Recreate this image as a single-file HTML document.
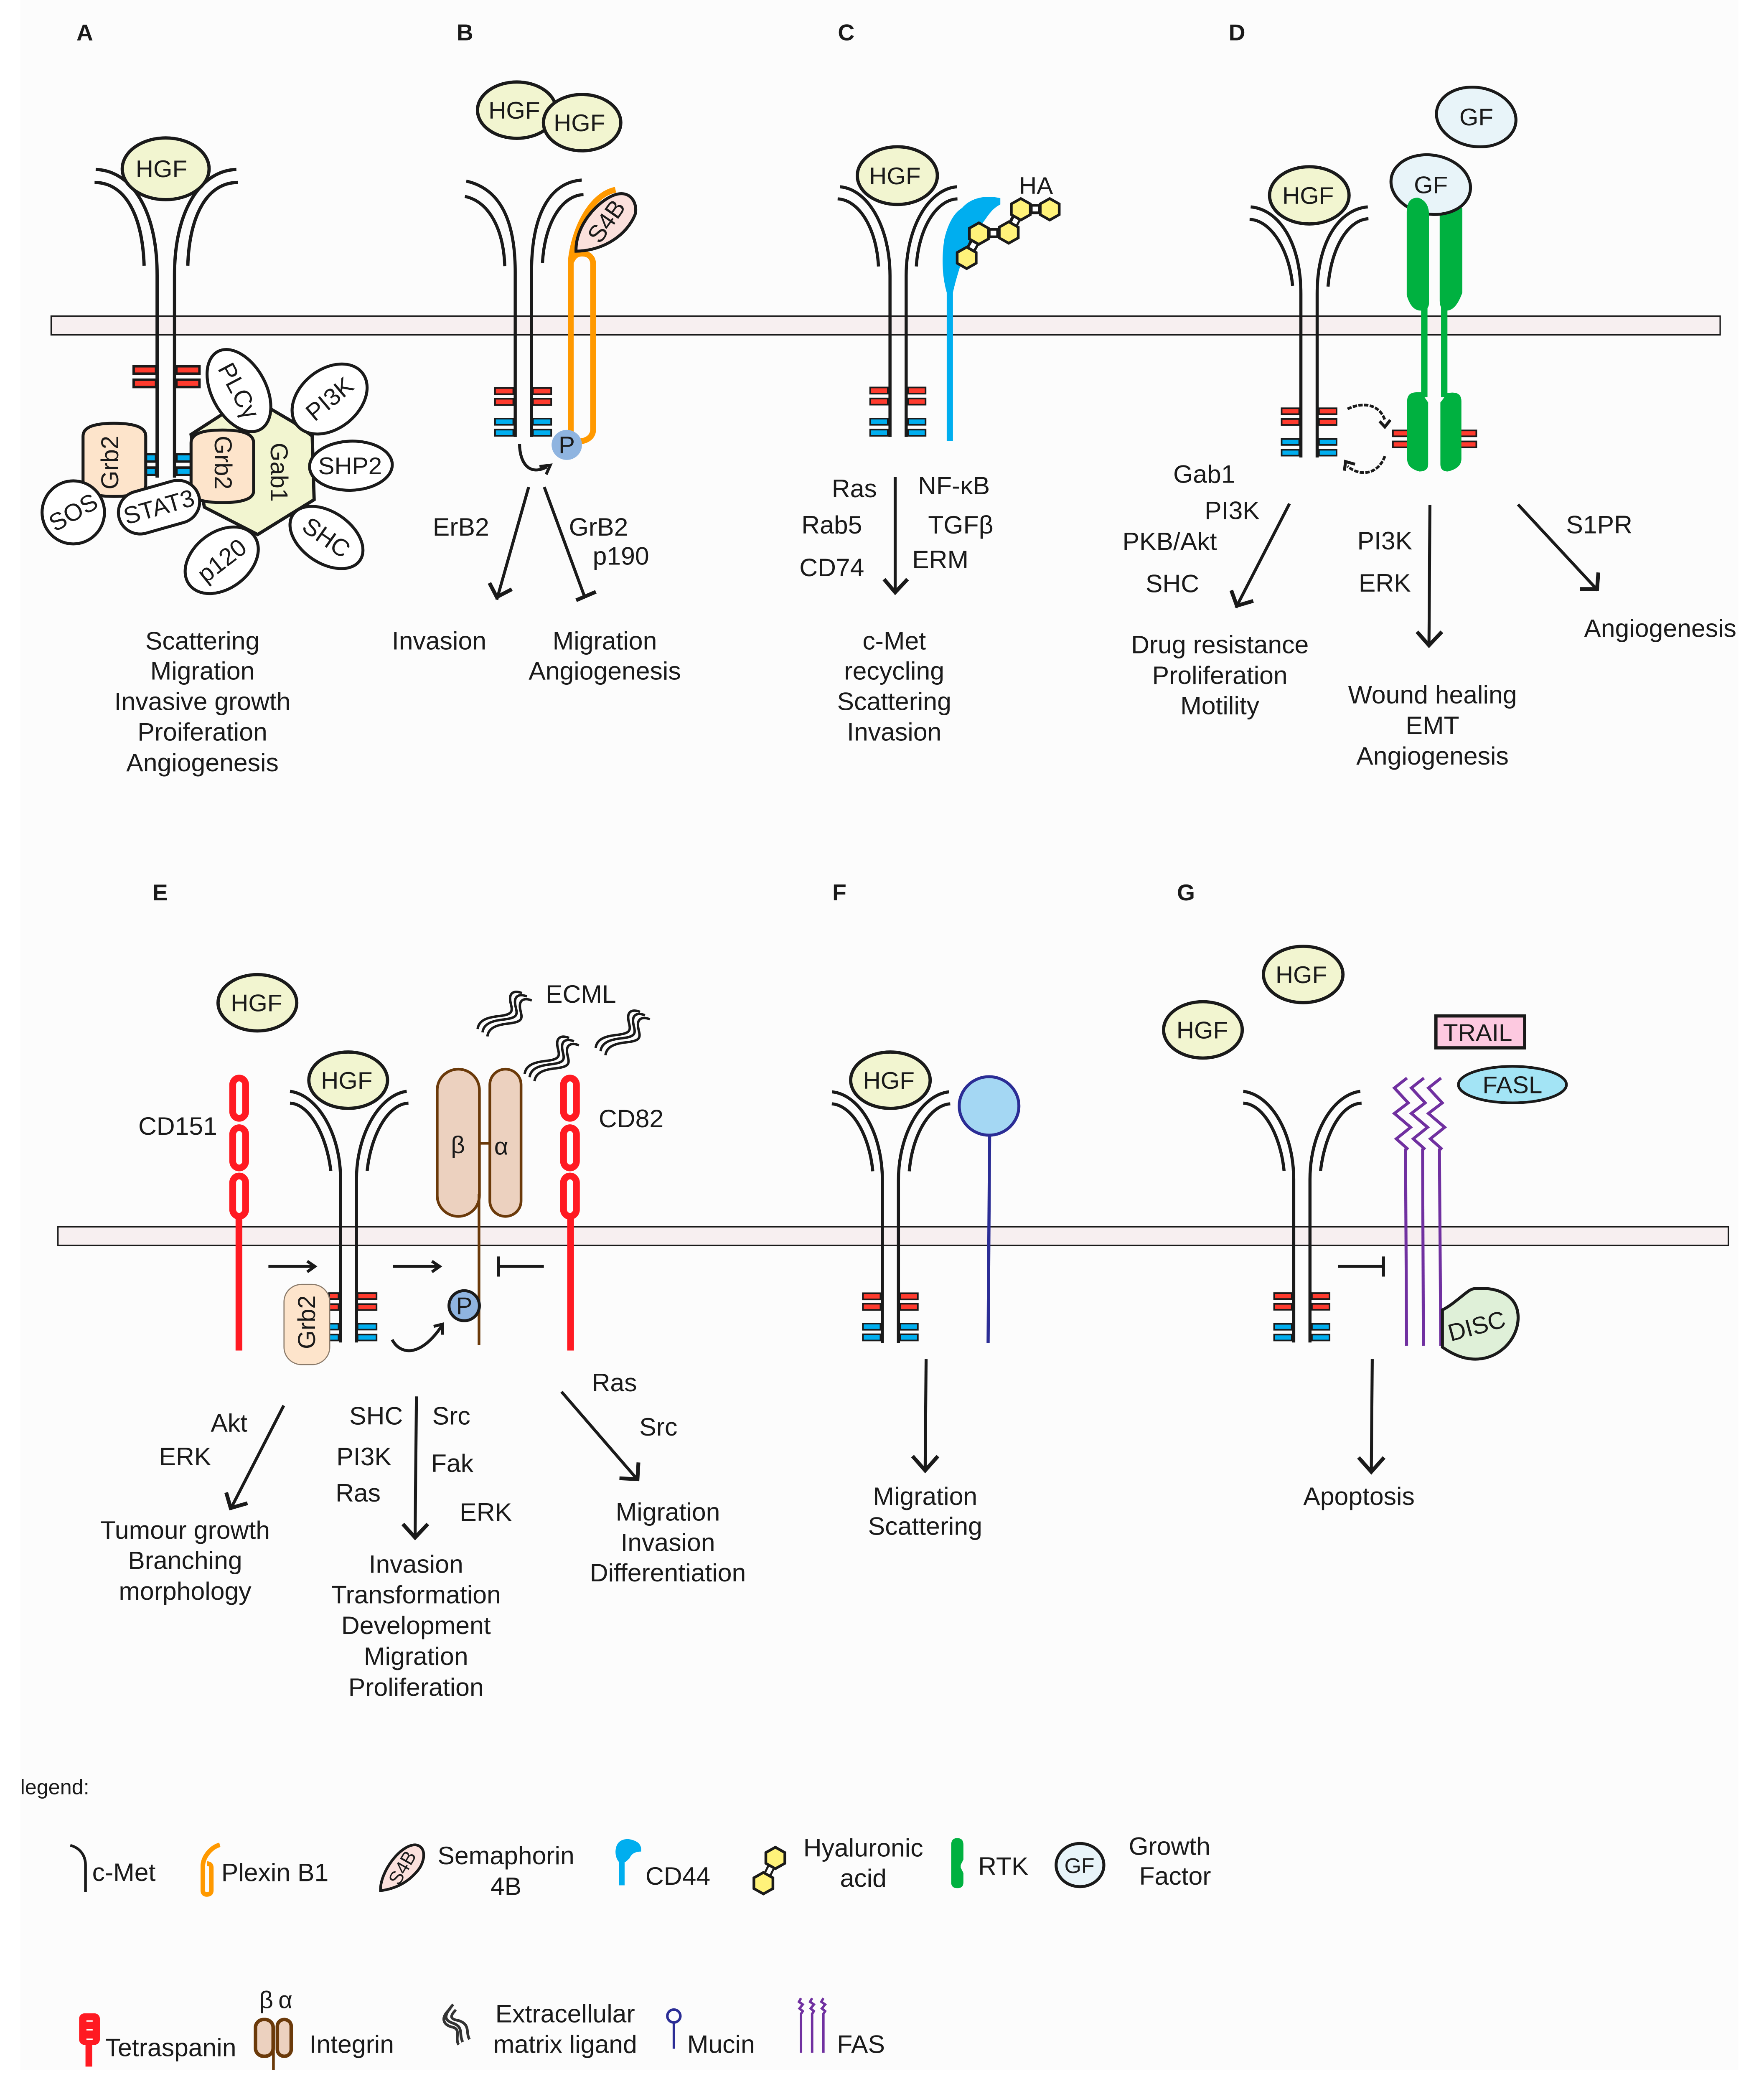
<!DOCTYPE html>
<html><head><meta charset="utf-8"><style>
html,body{margin:0;padding:0;background:#fff;width:100%;height:100%;overflow:hidden}
svg{display:block;position:absolute;left:0;top:0;width:100vw;height:100vh}
text{font-family:"Liberation Sans",sans-serif;font-size:18.7px;fill:#1a1a1a;text-anchor:middle}
.b{font-weight:bold;font-size:17px}
.s18{font-size:18px}
.r{fill:none;stroke:#1a1a1a;stroke-width:2.3}
.l{fill:none;stroke:#1a1a1a;stroke-width:2.2}
.h{fill:none;stroke:#1a1a1a;stroke-width:2.8;stroke-linejoin:miter}
.hgf{fill:#f2f5d0;stroke:#1a1a1a;stroke-width:2.4}
.w{fill:#fff;stroke:#1a1a1a;stroke-width:2.2}
.red{fill:#ff3b2e;stroke:#1a1a1a;stroke-width:1.2}
.blu{fill:#00aeef;stroke:#1a1a1a;stroke-width:1.2}
.mem{fill:#f7eff0;stroke:#1a1a1a;stroke-width:1}
.gb{fill:#fde4cb;stroke:#1a1a1a;stroke-width:2.2}
.tet{fill:none;stroke:#ff1a22;stroke-width:5}
.pur{fill:none;stroke:#7030a0;stroke-width:2.2}
.grn{fill:#00b140}
.hx{fill:#fff27a;stroke:#1a1a1a;stroke-width:2}
</style></head><body>
<svg xmlns="http://www.w3.org/2000/svg" viewBox="0 0 1300 1557" preserveAspectRatio="none">
<defs>
<polygon id="hex" points="0,-8 7,-4 7,4 0,8 -7,4 -7,-4"/>
<g id="ecm" fill="none" stroke="#1a1a1a" stroke-width="1.8">
<path d="M0,0 C.8,-7.2 8.5,-8.9 16.1,-9.7 C26.3,-11 25.8,-13.4 24.3,-19.6 C22.5,-27.9 27.6,-28.9 32.7,-26.8"/>
<path d="M3.6,2.5 C4.4,-4.7 12.1,-6.4 19.7,-7.2 C29.9,-8.5 29.4,-10.9 27.9,-17.1 C26.1,-25.4 31.2,-26.4 36.3,-24.3"/>
<path d="M7.2,5.5 C8,-1.7 15.7,-3.4 23.3,-4.2 C33.5,-5.5 33,-7.9 31.5,-14.1 C29.7,-22.4 34.8,-23.4 39.9,-21.3"/>
</g>
</defs>
<rect width="1300" height="1557" fill="#fff"/>
<rect x="15" y="0" width="1266" height="1543" fill="#fcfcfc"/>

<!-- panel letters -->
<text class="b" x="62.5" y="30">A</text><text class="b" x="342.6" y="30">B</text><text class="b" x="623.6" y="30">C</text><text class="b" x="911.6" y="30">D</text>
<text class="b" x="118" y="671">E</text><text class="b" x="618.6" y="671">F</text><text class="b" x="874" y="671">G</text>

<!-- membranes -->
<rect class="mem" x="37.7" y="235.6" width="1230" height="14"/>
<rect class="mem" x="42.7" y="914.4" width="1231" height="13.8"/>

<!-- A -->
<g class="r" style="stroke-width:2.4">
<path d="M70.5,126.3 C96,127 115.8,155 115.8,205 V356"/><path d="M174.2,126.3 C149,127 128.6,155 128.6,205 V356"/>
<path d="M69.7,136 C92,136 105,160 106.2,198"/><path d="M175.2,136 C153,136 139.5,160 138.4,198"/>
</g>
<ellipse class="hgf" cx="122.1" cy="125.8" rx="32" ry="23"/>
<text class="s18" x="119" y="132">HGF</text>
<g>
<rect class="red" style="stroke-width:1.8" x="98.5" y="273" width="16.5" height="5.5"/><rect class="red" style="stroke-width:1.8" x="98.5" y="283" width="16.5" height="5.5"/>
<rect class="red" style="stroke-width:1.8" x="130" y="273" width="17" height="5.5"/><rect class="red" style="stroke-width:1.8" x="130" y="283" width="17" height="5.5"/>
<rect class="blu" style="stroke-width:1.8" x="107" y="338.5" width="8" height="5.5"/><rect class="blu" style="stroke-width:1.8" x="107" y="348.5" width="8" height="5.5"/>
<rect class="blu" style="stroke-width:1.8" x="130" y="338.5" width="12" height="5.5"/><rect class="blu" style="stroke-width:1.8" x="130" y="348.5" width="12" height="5.5"/>
</g>
<polygon class="hgf" points="140.8,323.8 184,295.6 216.4,314.8 230.1,325 231.5,372.4 189.9,398.4 150.6,378"/>
<path class="gb" d="M61.2,325 C61.2,318 70,315.5 84,315.5 C98,315.5 107.4,318 107.4,325 V362 C107.4,367 98,370 84,370 C70,370 61.2,367 61.2,362 Z"/>
<path class="gb" d="M140.8,330 C140.8,323 150,320.5 164,320.5 C178,320.5 186.9,323 186.9,330 V366 C186.9,372 178,374.6 164,374.6 C150,374.6 140.8,372 140.8,366 Z"/>
<text class="s18" transform="rotate(-90 80.9 344.8)" x="80.9" y="351">Grb2</text>
<text class="s18" transform="rotate(90 164.4 344.8)" x="164.4" y="351">Grb2</text>
<text class="s18" transform="rotate(90 205.6 352)" x="205.6" y="358">Gab1</text>
<ellipse class="w" transform="rotate(62 176.1 291.1)" cx="176.1" cy="291.1" rx="33" ry="20"/>
<text class="s18" transform="rotate(62 176.1 291.1)" x="176.1" y="297.5">PLCγ</text>
<ellipse class="w" transform="rotate(-40 242.9 297.4)" cx="242.9" cy="297.4" rx="31" ry="22"/>
<text class="s18" transform="rotate(-40 242.9 297.4)" x="242.9" y="303.5">PI3K</text>
<ellipse class="w" transform="rotate(-2 258.6 347.1)" cx="258.6" cy="347.1" rx="30.5" ry="18.3"/>
<text class="s18" x="258" y="353.5">SHP2</text>
<ellipse class="w" transform="rotate(35 240.6 400.6)" cx="240.6" cy="400.6" rx="30" ry="19"/>
<text class="s18" transform="rotate(35 240.6 400.6)" x="240.6" y="406.8">SHC</text>
<ellipse class="w" transform="rotate(-38 163.4 417.6)" cx="163.4" cy="417.6" rx="30" ry="21"/>
<text class="s18" transform="rotate(-38 163.4 417.6)" x="163.4" y="424">p120</text>
<ellipse class="w" cx="54" cy="381.9" rx="23" ry="23.5"/>
<text class="s18" transform="rotate(-30 54 381.9)" x="54" y="388">SOS</text>
<rect class="w" transform="rotate(-16 117.2 378)" x="86.7" y="362" width="61" height="32" rx="16"/>
<text class="s18" transform="rotate(-16 117.2 378)" x="117.2" y="384">STAT3</text>
<text x="149.2" y="484">Scattering</text><text x="149.2" y="506.5">Migration</text><text x="149.2" y="529.3">Invasive growth</text><text x="149.2" y="552">Proiferation</text><text x="149.2" y="574.8">Angiogenesis</text>

<!-- B -->
<g class="r">
<path d="M343.6,135 C366,140 379.7,160 379.7,203 V325.7"/><path d="M428.7,134.2 C405,136 391.7,160 391.7,203 V325.7"/>
<path d="M342.6,146.4 C360,150 371,170 372,198.4"/><path d="M430,145 C412,146 401,170 399.8,195.9"/>
</g>
<ellipse class="hgf" cx="380.9" cy="82.1" rx="29" ry="21"/><text class="s18" x="379" y="88.5">HGF</text>
<ellipse class="hgf" cx="429" cy="91.4" rx="28.5" ry="21"/><text class="s18" x="427" y="97.8">HGF</text>
<rect class="red" x="364.8" y="289.2" width="13.5" height="4.6"/><rect class="red" x="364.8" y="297.2" width="13.5" height="4.6"/>
<rect class="red" x="392.7" y="289.2" width="13.5" height="4.6"/><rect class="red" x="392.7" y="297.2" width="13.5" height="4.6"/>
<rect class="blu" x="364.8" y="312" width="13.5" height="4.6"/><rect class="blu" x="364.8" y="320.2" width="13.5" height="4.6"/>
<rect class="blu" x="392.7" y="312" width="13.5" height="4.6"/><rect class="blu" x="392.7" y="320.2" width="13.5" height="4.6"/>
<g fill="none" stroke="#ff9900" stroke-width="4.3">
<path d="M453.6,141.4 C436,145 423,170 420.6,195 V322"/>
<path d="M421,195 C423,190 426,189 429,189 C434,189 437.1,192 437.1,197 V320 C437.1,326 432,329 426,329"/>
</g>
<path d="M424.5,187.2 C424,165 445,146 456,144.5 C466,143 470,153 468,160 C462,175 445,187 424.5,187.2 Z" fill="#fbe0dc" stroke="#1a1a1a" stroke-width="2.2"/>
<text class="s18" transform="rotate(-55 447 165)" x="447" y="171">S4B</text>
<circle cx="417.7" cy="331.6" r="11.2" fill="#8fb4e0"/><text class="s18" x="417.7" y="337.8">P</text>
<path class="l" d="M382.9,331 C383,345 390,355 403,348"/><polyline class="l" points="397.6,347.7 405.5,346.7 402.5,353.6"/>
<line class="l" x1="389.6" y1="363" x2="366.1" y2="447"/><polyline class="h" points="360.7,434.5 366.1,445 377.2,439.2"/>
<line class="l" x1="401.1" y1="363" x2="430.8" y2="444.7"/><line class="h" x1="424.6" y1="447.4" x2="439.1" y2="441.1"/>
<text x="339.7" y="399.2">ErB2</text><text x="441.1" y="399.2">GrB2</text><text x="457.6" y="420.9">p190</text>
<text x="323.6" y="484">Invasion</text><text x="445.7" y="484">Migration</text><text x="445.7" y="506.5">Angiogenesis</text>

<!-- C -->
<g class="r">
<path d="M619,139.2 C640,141 655.9,170 655.9,205.5 V325.7"/><path d="M705.3,139.2 C684,141 667.8,170 667.8,205.5 V325.7"/>
<path d="M617.3,148.2 C633,149 646,170 647.4,198.6"/><path d="M705.6,148.2 C690,149 677,170 675.3,198.6"/>
</g>
<ellipse class="hgf" cx="661.3" cy="130.9" rx="29.5" ry="21.5"/><text class="s18" x="659.5" y="137.3">HGF</text>
<rect class="red" x="641.3" y="288.8" width="13" height="4.6"/><rect class="red" x="641.3" y="297" width="13" height="4.6"/>
<rect class="red" x="669.1" y="288.8" width="13" height="4.6"/><rect class="red" x="669.1" y="297" width="13" height="4.6"/>
<rect class="blu" x="641.3" y="312" width="13" height="4.6"/><rect class="blu" x="641.3" y="320.2" width="13" height="4.6"/>
<rect class="blu" x="669.1" y="312" width="13" height="4.6"/><rect class="blu" x="669.1" y="320.2" width="13" height="4.6"/>
<path fill="#00aeef" d="M697.7,218 C694,205 694,190 696,178 C699,165 704,158 709,155 C715,148 725,145 737.2,147.7 V152.4 C730,156 727,163 724.1,166.2 C718,175 713,182 710.4,189.8 C707,200 704,210 702.3,218 V328.8 H697.7 Z"/>
<g stroke="#1a1a1a" stroke-width="7.5" fill="none"><path d="M752.3,156 H773.6"/><path d="M752.3,156 L743.4,173.3"/><path d="M743.4,173.3 L721.4,174.1"/><path d="M721.4,174.1 L712.4,192.2"/></g>
<g stroke="#fff" stroke-width="3.6" fill="none"><path d="M761,155.8 H765"/><path d="M749.1,162.9 L747.3,166.5"/><path d="M730,173.7 H734.2"/><path d="M718,181.4 L716,185"/></g>
<use href="#hex" class="hx" x="773.6" y="156"/><use href="#hex" class="hx" x="752.3" y="156"/><use href="#hex" class="hx" x="743.4" y="173.3"/><use href="#hex" class="hx" x="721.4" y="174.1"/><use href="#hex" class="hx" x="712.4" y="192.2"/>
<text class="s18" x="763.5" y="144.5">HA</text>
<line class="l" x1="659.7" y1="355.5" x2="659.7" y2="441"/><polyline class="h" points="651.5,431.7 659.7,441.5 668.8,431.7"/>
<text x="629.6" y="370.6">Ras</text><text x="613" y="397.6">Rab5</text><text x="613" y="429.4">CD74</text>
<text x="703" y="368.4">NF-κB</text><text x="708" y="397.6">TGFβ</text><text x="693" y="423.5">ERM</text>
<text x="659" y="484">c-Met</text><text x="659" y="506.5">recycling</text><text x="659" y="529.3">Scattering</text><text x="659" y="552">Invasion</text>

<!-- D -->
<g class="r">
<path d="M921.7,154.2 C942,156 958.7,180 958.7,219 V341"/><path d="M1008,154.2 C987,156 970.7,180 970.7,219 V341"/>
<path d="M920.9,163.5 C936,164 950,185 952.6,213"/><path d="M1008.5,163 C993,164 981,185 978.7,213.6"/>
</g>
<ellipse class="hgf" cx="964.9" cy="145.6" rx="29.3" ry="21.3"/><text class="s18" x="964" y="152">HGF</text>
<rect class="red" x="944.5" y="304.3" width="13" height="4.4"/><rect class="red" x="944.5" y="312.3" width="13" height="4.4"/>
<rect class="red" x="972" y="304.3" width="13" height="4.4"/><rect class="red" x="972" y="312.3" width="13" height="4.4"/>
<rect class="blu" x="944.5" y="327.2" width="13" height="4.4"/><rect class="blu" x="944.5" y="335.2" width="13" height="4.4"/>
<rect class="blu" x="972" y="327.2" width="13" height="4.4"/><rect class="blu" x="972" y="335.2" width="13" height="4.4"/>
<rect class="red" x="1026.5" y="320.8" width="14" height="4.4"/><rect class="red" x="1026.5" y="329" width="14" height="4.4"/>
<rect class="red" x="1074" y="320.8" width="14" height="4.4"/><rect class="red" x="1074" y="329" width="14" height="4.4"/>
<path class="grn" d="M1061,155 H1077.7 V218 Q1073,231.5 1066,231.5 Q1061,231 1061,224 Z"/>
<ellipse cx="1087.9" cy="87.2" rx="29.5" ry="22" transform="rotate(10 1087.9 87.2)" fill="#e8f4f9" stroke="#1a1a1a" stroke-width="2.2"/><text class="s18" x="1088" y="93.5">GF</text>
<ellipse cx="1054.4" cy="137.6" rx="29.5" ry="22" transform="rotate(10 1054.4 137.6)" fill="#e8f4f9" stroke="#1a1a1a" stroke-width="2.2"/><text class="s18" x="1054.5" y="144">GF</text>
<path class="grn" d="M1036.7,158 Q1036.7,147.3 1045,147.3 Q1053.1,150 1053.1,160 V226 Q1053,231.5 1047,231.5 Q1040,231.5 1036.7,220 Z"/>
<rect class="grn" x="1047.3" y="228" width="4.7" height="68"/><rect class="grn" x="1062" y="228" width="4.7" height="68"/>
<path class="grn" d="M1037,299 Q1037,292.4 1044,292.4 H1047.3 L1052.5,300 V346 Q1052.5,351.4 1046,351.4 Q1037,349 1037,342 Z"/>
<path class="grn" d="M1061.5,300 L1066.7,293 Q1077,291 1077,299 V342 Q1077,349 1067,351.4 Q1061.5,351.4 1061.5,346 Z"/>
<path d="M993.1,304.8 C1003,300 1016,300 1020.6,313" fill="none" stroke="#1a1a1a" stroke-width="2" stroke-dasharray="3.2 1"/>
<polyline class="l" points="1016.7,314 1020.6,318.2 1024.6,313"/>
<path d="M1020.6,340 C1016,353 1003,356 993.1,347.5" fill="none" stroke="#1a1a1a" stroke-width="2" stroke-dasharray="3.2 1"/>
<polyline class="l" points="990.8,350.8 991.6,344 998.6,346"/>
<line class="l" x1="950.3" y1="375.4" x2="910.8" y2="453"/><polyline class="h" points="907.4,440 911.5,451.5 923.6,447.9"/>
<line class="l" x1="1053.8" y1="376.3" x2="1053.1" y2="481"/><polyline class="h" points="1044.3,470.9 1053.1,481 1062.6,470.9"/>
<line class="l" x1="1118.7" y1="376" x2="1177.5" y2="440"/><polyline class="h" points="1177.9,426.7 1177,439 1164.4,439"/>
<text x="887.5" y="359.9">Gab1</text><text x="908" y="386.9">PI3K</text><text x="862" y="409.9">PKB/Akt</text><text x="864" y="441.4">SHC</text>
<text x="1020.5" y="409.5">PI3K</text><text x="1020.5" y="441">ERK</text><text x="1178.6" y="397.5">S1PR</text>
<text x="1223.5" y="474.8">Angiogenesis</text>
<text x="899" y="486.8">Drug resistance</text><text x="899" y="509.8">Proliferation</text><text x="899" y="532.4">Motility</text>
<text x="1055.7" y="524.3">Wound healing</text><text x="1055.7" y="547.2">EMT</text><text x="1055.7" y="569.9">Angiogenesis</text>

<!-- E -->
<g class="r">
<path d="M213.7,813.4 C234,816 251,845 251,879 V1000.6"/><path d="M299.7,813.4 C280,816 262.7,845 262.7,879 V1000.6"/>
<path d="M213.7,822.2 C229,823 241,848 243.8,872.7"/><path d="M301,822.2 C285,823 273,848 270.6,872.7"/>
</g>
<ellipse class="hgf" cx="189.7" cy="747.4" rx="29" ry="21"/><text class="s18" x="189" y="753.8">HGF</text>
<ellipse class="hgf" cx="256.6" cy="805.1" rx="29" ry="21"/><text class="s18" x="255.5" y="811.5">HGF</text>
<rect class="tet" x="171.5" y="803.5" width="9.5" height="30" rx="5"/><rect class="tet" x="171.5" y="840.5" width="9.5" height="30" rx="5"/><rect class="tet" x="171.5" y="876.5" width="9.5" height="30" rx="5"/>
<rect x="173.6" y="908" width="5" height="98.6" fill="#ff1a22"/>
<rect class="tet" x="415.3" y="803.5" width="9.5" height="30" rx="5"/><rect class="tet" x="415.3" y="840.5" width="9.5" height="30" rx="5"/><rect class="tet" x="415.3" y="876.5" width="9.5" height="30" rx="5"/>
<rect x="418" y="908" width="5" height="98.6" fill="#ff1a22"/>
<rect x="322.2" y="796.9" width="31.1" height="109.7" rx="15.5" fill="#ecd1bf" stroke="#6b3a0a" stroke-width="2"/>
<rect x="361" y="796.9" width="23" height="109.7" rx="11.5" fill="#ecd1bf" stroke="#6b3a0a" stroke-width="2"/>
<line x1="353" y1="852.1" x2="361" y2="852.1" stroke="#6b3a0a" stroke-width="2"/>
<line x1="353" y1="890" x2="353" y2="1002.4" stroke="#6b3a0a" stroke-width="2"/>
<text class="s18" x="337.5" y="859.5">β</text><text class="s18" x="369.4" y="860.5">α</text>
<use href="#ecm" x="352" y="767"/><use href="#ecm" x="386.7" y="800.4"/><use href="#ecm" x="439" y="781"/>
<text x="428.1" y="747.4">ECML</text><text x="131" y="845.7">CD151</text><text x="465.1" y="840.2">CD82</text>
<rect class="red" x="242.5" y="963.8" width="7" height="4.4"/><rect class="red" x="242.5" y="972" width="7" height="4.4"/>
<rect class="red" x="263.5" y="963.8" width="14" height="4.4"/><rect class="red" x="263.5" y="972" width="14" height="4.4"/>
<rect class="blu" x="242.5" y="986.6" width="7" height="4.4"/><rect class="blu" x="242.5" y="994.7" width="7" height="4.4"/>
<rect class="blu" x="263.5" y="986.6" width="14" height="4.4"/><rect class="blu" x="263.5" y="994.7" width="14" height="4.4"/>
<rect x="209.3" y="957.3" width="33.7" height="59.8" rx="13" fill="#fde4cb" stroke="#8a7a6a" stroke-width=".8"/>
<text class="s18" transform="rotate(-90 225.9 985.5)" x="225.9" y="991.7">Grb2</text>
<line class="l" x1="197.8" y1="943.9" x2="232" y2="943.9"/><polyline class="l" points="226.4,940 232,943.9 226.4,948"/>
<line class="l" x1="289.5" y1="943.9" x2="324" y2="943.9"/><polyline class="l" points="318.3,940 324,943.9 318.3,948"/>
<line class="l" x1="400.8" y1="943.9" x2="367.4" y2="943.9"/><line class="l" x1="367.4" y1="936.5" x2="367.4" y2="951.5"/>
<circle cx="342.1" cy="973.2" r="11.2" fill="#8fb4e0" stroke="#1a1a1a" stroke-width="2.2"/><text class="s18" x="342.1" y="979.5">P</text>
<path class="l" d="M289,998.5 C295,1010 310,1012 326,987.6"/><polyline class="l" points="319.6,988.6 326,987 326,994.8"/>
<line class="l" x1="209.1" y1="1047.6" x2="169.8" y2="1125"/><polyline class="h" points="166.7,1112.4 170,1124 182.4,1120.4"/>
<line class="l" x1="306.9" y1="1040.8" x2="305.9" y2="1146"/><polyline class="h" points="296.9,1135.9 305.9,1146 315.3,1135.9"/>
<line class="l" x1="413.8" y1="1037.3" x2="470" y2="1103"/><polyline class="h" points="470.5,1090 469.8,1102.5 456.5,1101.8"/>
<text x="452.8" y="1037">Ras</text><text x="485.2" y="1070">Src</text><text x="168.8" y="1067">Akt</text><text x="136.4" y="1092.1">ERK</text>
<text x="277.2" y="1061.7">SHC</text><text x="332.6" y="1061.7">Src</text><text x="268.2" y="1092.1">PI3K</text><text x="333.3" y="1097">Fak</text><text x="263.9" y="1119.1">Ras</text><text x="358" y="1133.5">ERK</text>
<text x="136.4" y="1146.9">Tumour growth</text><text x="136.4" y="1169.5">Branching</text><text x="136.4" y="1192.3">morphology</text>
<text x="306.6" y="1172.3">Invasion</text><text x="306.6" y="1195">Transformation</text><text x="306.6" y="1217.9">Development</text><text x="306.6" y="1240.9">Migration</text><text x="306.6" y="1263.9">Proliferation</text>
<text x="492.2" y="1133.3">Migration</text><text x="492.2" y="1156.1">Invasion</text><text x="492.2" y="1178.7">Differentiation</text>

<!-- F -->
<g class="r">
<path d="M613.2,813.8 C634,816 650.3,845 650.3,880 V1001"/><path d="M699.4,813.8 C679,816 662.1,845 662.1,880 V1001"/>
<path d="M613,822.7 C629,824 641,848 643.2,873"/><path d="M700.3,822.7 C684,824 672,848 670.1,873"/>
</g>
<ellipse class="hgf" cx="656.2" cy="805.1" rx="29.3" ry="21"/><text class="s18" x="655" y="811.5">HGF</text>
<ellipse cx="728.9" cy="824.3" rx="22" ry="21.8" fill="#a4d7f3" stroke="#2b2d95" stroke-width="2.2"/>
<path d="M729.3,846 L728.2,1001" stroke="#2b2d95" stroke-width="2.3" fill="none"/>
<rect class="red" x="635.9" y="963.9" width="13" height="4.6"/><rect class="red" x="635.9" y="971.7" width="13" height="4.6"/>
<rect class="red" x="663.4" y="963.9" width="13" height="4.6"/><rect class="red" x="663.4" y="971.7" width="13" height="4.6"/>
<rect class="blu" x="635.9" y="986.5" width="13" height="4.6"/><rect class="blu" x="635.9" y="994.5" width="13" height="4.6"/>
<rect class="blu" x="663.4" y="986.5" width="13" height="4.6"/><rect class="blu" x="663.4" y="994.5" width="13" height="4.6"/>
<line class="l" x1="682.5" y1="1013" x2="681.8" y2="1096"/><polyline class="h" points="672.5,1085.3 681.8,1096 691.2,1085.3"/>
<text x="681.8" y="1121.7">Migration</text><text x="681.8" y="1144">Scattering</text>

<!-- G -->
<g class="r">
<path d="M916.2,813.4 C937,816 953.4,845 953.4,879 V1000.6"/><path d="M1002.5,813.4 C982,816 965.4,845 965.4,879 V1000.6"/>
<path d="M916.2,822.2 C932,823 944,848 946.3,872.7"/><path d="M1003.4,822.2 C987,823 976,848 973.2,872.7"/>
</g>
<ellipse class="hgf" cx="960.4" cy="726.3" rx="29.3" ry="21"/><text class="s18" x="959" y="732.7">HGF</text>
<ellipse class="hgf" cx="886.5" cy="767.6" rx="29" ry="21"/><text class="s18" x="886" y="774">HGF</text>
<rect class="red" x="939" y="963.8" width="13" height="4.4"/><rect class="red" x="939" y="971.8" width="13" height="4.4"/>
<rect class="red" x="966.8" y="963.8" width="13" height="4.4"/><rect class="red" x="966.8" y="971.8" width="13" height="4.4"/>
<rect class="blu" x="939" y="986.7" width="13" height="4.4"/><rect class="blu" x="939" y="994.7" width="13" height="4.4"/>
<rect class="blu" x="966.8" y="986.7" width="13" height="4.4"/><rect class="blu" x="966.8" y="994.7" width="13" height="4.4"/>
<line class="l" x1="986" y1="943.9" x2="1019.6" y2="943.9"/><line class="l" x1="1019.6" y1="936.5" x2="1019.6" y2="951.5"/>
<g class="pur">
<path d="M1036.9,803.5 L1027.6,810.9 L1037.8,822 L1027.6,829.9 L1039.6,840.2 L1029,848.8 L1037.8,856.7"/>
<path d="M1049.4,803.5 L1040.1,810.9 L1050.3,822 L1040.1,829.9 L1052.1,840.2 L1041.5,848.8 L1050.3,856.7"/>
<path d="M1062,803.5 L1052.7,810.9 L1062.9,822 L1052.7,829.9 L1064.7,840.2 L1054.1,848.8 L1062.9,856.7"/>
<path d="M1035.8,856 L1036.6,1003"/><path d="M1048.4,856 L1049,1003"/><path d="M1060.8,856 L1061.8,1003"/>
</g>
<rect x="1058.2" y="757.2" width="65.4" height="23.8" fill="#fdc9e0" stroke="#1a1a1a" stroke-width="2.4"/><text class="s18" x="1089" y="775.8">TRAIL</text>
<ellipse cx="1114.6" cy="808.4" rx="39.8" ry="13.6" fill="#a3e4f5" stroke="#1a1a1a" stroke-width="2"/><text class="s18" x="1114.6" y="814.8">FASL</text>
<path d="M1063,976.3 C1070,973 1078,965 1083,961.8 C1086,960 1088,960.2 1092,960.2 C1108,960.5 1118.8,968 1118.8,982 C1118.8,998 1105,1013 1087.3,1013 C1078,1013 1070,1009 1063,1004.1 Z" fill="#dff0d8" stroke="#1a1a1a" stroke-width="2.2"/>
<text class="s18" transform="rotate(-15 1088.2 988.2)" x="1088.2" y="994.5">DISC</text>
<line class="l" x1="1011.3" y1="1013" x2="1010.6" y2="1097"/><polyline class="h" points="1001.2,1086.3 1010.6,1097 1020,1086.3"/>
<text x="1001.5" y="1121.7">Apoptosis</text>

<!-- legend -->
<text x="40.4" y="1337.3" style="font-size:15.5px">legend:</text>
<path d="M51.8,1375.4 C58,1377 63,1382 63,1390 V1410" fill="none" stroke="#1a1a1a" stroke-width="2"/>
<text x="91.3" y="1402">c-Met</text>
<path d="M162,1375 C155,1377 150,1384 149.5,1390 V1409 Q149.5,1412 152.5,1412 Q155.7,1412 155.7,1409 V1392 Q155.7,1389 152.5,1389" fill="none" stroke="#ff9900" stroke-width="3.4"/>
<text x="202.6" y="1402.1">Plexin B1</text>
<path d="M280.4,1409.2 C280,1395 295,1375 306,1375 C315,1376 313,1388 308,1394 C300,1404 290,1408 280.4,1409.2Z" fill="#fbe0dc" stroke="#1a1a1a" stroke-width="2"/>
<text transform="rotate(-60 296.3 1392)" x="296.3" y="1397" style="font-size:14px">S4B</text>
<text x="372.9" y="1389.5">Semaphorin</text><text x="372.9" y="1412.3">4B</text>
<path fill="#00aeef" d="M456.3,1405.2 V1388 Q453.6,1385 453.6,1380 Q454,1370.7 463,1370.7 Q472,1372 472.5,1378 L472.5,1380 Q466,1380 464,1385 Q461,1388 460.3,1388 V1405.2 Z"/>
<text x="499.6" y="1404.7">CD44</text>
<line x1="571.4" y1="1384.8" x2="562.6" y2="1403.6" stroke="#1a1a1a" stroke-width="6"/><line x1="568.6" y1="1391" x2="565.6" y2="1397" stroke="#fff" stroke-width="3"/>
<use href="#hex" class="hx" x="571.4" y="1384.8"/><use href="#hex" class="hx" x="562.6" y="1403.6"/>
<text x="636.2" y="1383.7">Hyaluronic</text><text x="636.2" y="1406.3">acid</text>
<path class="grn" d="M701,1375 Q701,1370 705.5,1370 Q710,1370 710,1375 V1386 L708,1390 V1392 L710,1396 V1403 Q710,1407.3 705.5,1407.3 Q701,1407.3 701,1403 Z"/>
<text x="739.4" y="1397.4">RTK</text>
<ellipse cx="795.9" cy="1390.1" rx="17.6" ry="16.1" fill="#e8f4f9" stroke="#1a1a1a" stroke-width="2.2"/><text x="795.5" y="1396" style="font-size:16px">GF</text>
<text x="861.9" y="1382.4">Growth</text><text x="866" y="1404.7">Factor</text>

<rect x="58.3" y="1500.6" width="15.3" height="23.5" rx="4" fill="#ff1a22"/>
<g fill="#fff"><rect x="63.7" y="1505.8" width="4.6" height="1"/><rect x="63.7" y="1512.4" width="4.6" height="1"/><rect x="63.7" y="1519.4" width="4.6" height="1"/></g>
<rect x="63" y="1524" width="5" height="16.3" fill="#ff1a22"/>
<text x="125.8" y="1532.5">Tetraspanin</text>
<text class="s18" x="196.2" y="1496.8">β</text><text class="s18" x="210.3" y="1496.8">α</text>
<rect x="188.3" y="1505.2" width="13" height="27.4" rx="6" fill="#ecd1bf" stroke="#6b3a0a" stroke-width="2.6"/>
<rect x="204.4" y="1505.2" width="10.2" height="27.4" rx="5" fill="#ecd1bf" stroke="#6b3a0a" stroke-width="2.6"/>
<line x1="201.5" y1="1525" x2="201.5" y2="1542.7" stroke="#6b3a0a" stroke-width="2"/>
<text x="259.2" y="1530.1">Integrin</text>
<g fill="none" stroke="#333" stroke-width="2">
<path d="M334,1494 C326,1503 328,1506 334,1508 C342,1511 338,1516 341,1522"/>
<path d="M332,1497 C323,1505 328,1510 334,1511 C340,1513 335,1519 338,1524"/>
<path d="M336,1498 C331,1503 332,1505 338,1506 C347,1509 343,1515 346,1520"/>
</g>
<text x="416.5" y="1507.3">Extracellular</text><text x="416.5" y="1530.1">matrix ligand</text>
<ellipse cx="496.6" cy="1502.6" rx="4.8" ry="4.8" fill="#fcfcfc" stroke="#2b2d95" stroke-width="1.9"/>
<line x1="496.6" y1="1507" x2="496.6" y2="1527" stroke="#2b2d95" stroke-width="1.8"/>
<text x="531.4" y="1530.1">Mucin</text>
<g fill="none" stroke="#7030a0" stroke-width="1.8">
<path d="M590.3,1489.3 L588.8,1492 L591.6,1494 L589.2,1497 L591.6,1499 L590.3,1501 V1530"/>
<path d="M598.5,1489.3 L597,1492 L599.8,1494 L597.4,1497 L599.8,1499 L598.5,1501 V1530"/>
<path d="M606.8,1489.3 L605.3,1492 L608.1,1494 L605.7,1497 L608.1,1499 L606.8,1501 V1530"/>
</g>
<text x="634.5" y="1530.1">FAS</text>
</svg>
</body></html>
